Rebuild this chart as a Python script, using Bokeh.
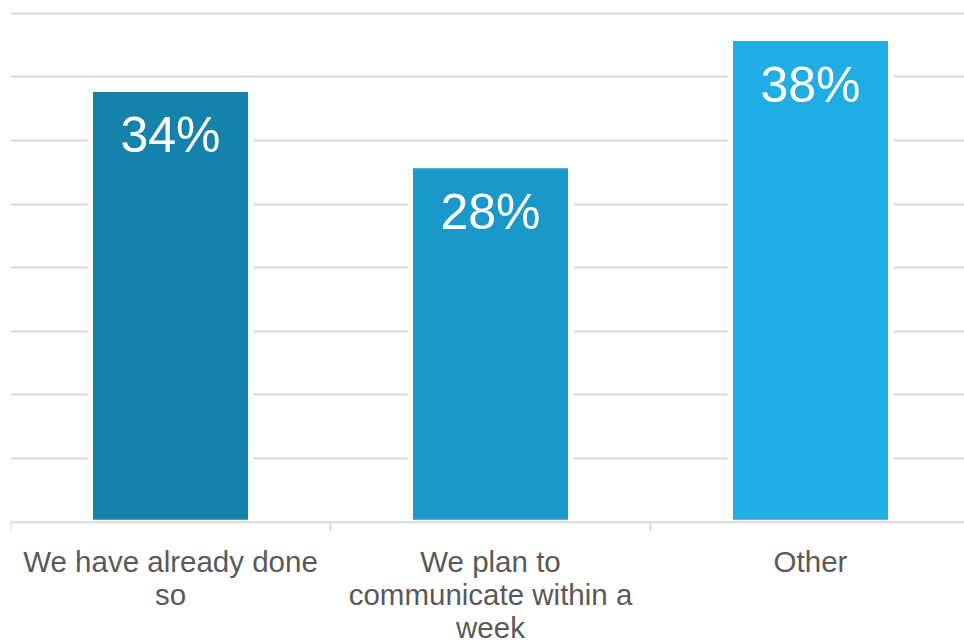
import math
from bokeh.plotting import figure
from bokeh.models import ColumnDataSource, Range1d, FixedTicker, LabelSet, Span
from bokeh.core.properties import value
from bokeh.embed import file_html
from bokeh.resources import INLINE

categories = ["We have already done\nso", "We plan to\ncommunicate within a\nweek", "Other"]
values = [34, 28, 38]
labels = ["34%", "28%", "38%"]
colors = ["#1582AC", "#1998C9", "#1FADE3"]
y_ticks = [0, 5, 10, 15, 20, 25, 30, 35, 40]

n = len(categories)
xs = [i + 0.5 for i in range(n)]
bounds = list(range(n + 1))
src = ColumnDataSource(dict(x=xs, top=values, lab=labels, color=colors))

# one row per text line of each category label, so every line is centred
line_x, line_text, line_base, line_off = [], [], [], []
for x, cat in zip(xs, categories):
    for k, t in enumerate(cat.split("\n")):
        line_x.append(x)
        line_text.append(t)
        line_base.append(y_ticks[0])
        line_off.append(-39 - 33 * k)
cat_src = ColumnDataSource(dict(x=line_x, text=line_text, y=line_base, off=line_off))

p = figure(width=964, height=644, output_backend="svg", toolbar_location=None,
           x_range=Range1d(0, 2.98125), y_range=Range1d(-9.6, 40.2),
           min_border_left=10, min_border_right=0, min_border_top=10, min_border_bottom=0)
p.outline_line_color = None
p.background_fill_color = "white"
p.border_fill_color = "white"
p.xaxis.visible = False
p.yaxis.visible = False
p.xgrid.visible = False
p.yaxis.ticker = FixedTicker(ticks=y_ticks[1:])
p.ygrid.ticker = FixedTicker(ticks=y_ticks[1:])
p.ygrid.grid_line_color = "#d9d9d9"
p.ygrid.grid_line_width = 2

p.vbar(x="x", top="top", bottom=0, width=0.5, fill_color="color",
       line_color="white", line_width=5, source=src)

# baseline (category axis line) and boundary ticks
p.add_layout(Span(location=y_ticks[0], dimension="width", line_color="#d9d9d9", line_width=2))
p.ray(x=bounds, y=[y_ticks[0]] * len(bounds), length=9, length_units="screen",
      angle=-math.pi / 2, line_color="#d9d9d9", line_width=2)

p.add_layout(LabelSet(x="x", y="top", text="lab", source=src, text_color="white",
                      text_font=value("Liberation Sans"), text_font_size="50px",
                      text_align="center", text_baseline="middle", y_offset=-46))

p.add_layout(LabelSet(x="x", y="y", text="text", source=cat_src, text_color="#595959",
                      text_font=value("Liberation Sans"), text_font_size="29.5px",
                      text_align="center", text_baseline="middle", y_offset="off"))

open("out.html", "w").write(file_html(p, INLINE))
